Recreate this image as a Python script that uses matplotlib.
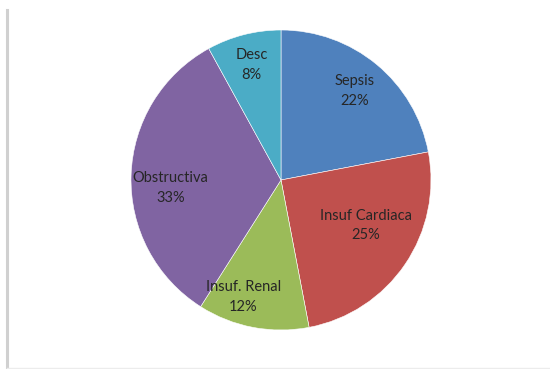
import numpy as np
import matplotlib.pyplot as plt
from matplotlib.lines import Line2D

categories = ['Sepsis', 'Insuf Cardiaca', 'Insuf. Renal', 'Obstructiva', 'Desc']
shares = [22, 25, 12, 33, 8]
colors = ['#4F81BD', '#C0504D', '#9BBB59', '#8064A2', '#4BACC6']

# label placement: fraction of the radius and a small turn (deg) off the slice middle
label_r = [0.77, 0.64, 0.82, 0.74, 0.79]
label_turn = [0, 6, -7, 6, 0]

fig = plt.figure(figsize=(5.5, 3.69), dpi=100)
ax = fig.add_axes([0, 0, 1, 1])

wedges, _ = ax.pie(shares, colors=colors, startangle=90, counterclock=False,
                   center=(281, 189), radius=150, frame=True,
                   wedgeprops=dict(edgecolor='white', linewidth=0.4))
ax.set_xlim(0, 550)
ax.set_ylim(0, 369)
ax.set_aspect('equal')
ax.axis('off')

for w, name, val, r, turn in zip(wedges, categories, shares, label_r, label_turn):
    mid = np.deg2rad((w.theta1 + w.theta2) / 2 + turn)
    x = w.center[0] + r * w.r * np.cos(mid)
    y = w.center[1] + r * w.r * np.sin(mid)
    ax.text(x, y, f'{name}\n{val}%', ha='center', va='center',
            fontsize=10.5, family='Lato', color='#262626', linespacing=1.5)

# light frame edges on the left and bottom
fig.add_artist(Line2D([7 / 550, 7 / 550], [0, 1 - 10 / 369],
                      transform=fig.transFigure, color='#d0d0d0', lw=2.2))
fig.add_artist(Line2D([7 / 550, 1], [1.5 / 369, 1.5 / 369],
                      transform=fig.transFigure, color='#ececec', lw=1))

fig.savefig('out.png', dpi=100)
